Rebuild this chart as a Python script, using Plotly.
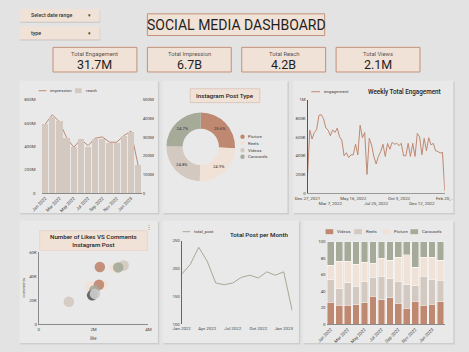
import plotly.graph_objects as go
import pandas as pd

W, H = 469, 352
FONT = "Roboto"
TERRA = "#bf8870"
TAUPE = "#d3c9c0"
BLUSH = "#f1e2d7"
SAGE = "#a6aa99"
BOXLINE = "#c39079"
PANEL = "#e9e9e9"
BG = "#e3e3e3"
SHADOW = "#cdcdcd"
TXT = "#2a2a2a"
TICK = "#444444"

# ---------------- data ----------------
months = ["Jan 2022", "Feb 2022", "Mar 2022", "Apr 2022", "May 2022", "Jun 2022",
          "Jul 2022", "Aug 2022", "Sep 2022", "Oct 2022", "Nov 2022", "Dec 2022",
          "Jan 2023", "Feb 2023"]
impression = [590e6, 671e6, 610e6, 475e6, 392e6, 461e6, 406e6, 470e6, 481e6,
              436e6, 436e6, 492e6, 531e6, 240e6]
reach = [369e6, 407e6, 385e6, 294e6, 245e6, 290e6, 246e6, 288e6, 290e6,
         267e6, 267e6, 306e6, 329e6, 150e6]

post_types = ["Picture", "Reels", "Videos", "Carousels"]
post_share = [25.6, 24.9, 24.8, 24.7]

week_start = "2021-12-27"
engagement = [180e3, 674e3, 579e3, 649e3, 680e3, 832e3, 839e3, 796e3, 698e3, 674e3,
              614e3, 677e3, 649e3, 695e3, 603e3, 568e3, 400e3, 432e3, 382e3, 410e3,
              410e3, 523e3, 410e3, 726e3, 593e3, 649e3, 200e3, 586e3, 516e3, 393e3,
              312e3, 393e3, 446e3, 523e3, 393e3, 533e3, 470e3, 544e3, 523e3, 533e3,
              509e3, 533e3, 400e3, 400e3, 533e3, 393e3, 533e3, 393e3, 639e3, 603e3,
              410e3, 586e3, 453e3, 593e3, 516e3, 533e3, 453e3, 446e3, 428e3, 439e3,
              25e3]
weeks = pd.date_range(week_start, periods=len(engagement), freq="7D")
week_ticks = ["2021-12-27", "2022-03-07", "2022-05-16", "2022-07-25",
              "2022-10-03", "2022-12-12", "2023-02-20"]
week_tick_text = ["Dec 27, 2021", "<br>Mar 7, 2022", "May 16, 2022", "<br>Jul 25, 2022",
                  "Oct 3, 2022", "<br>Dec 12, 2022", "Feb 20,..."]

likes = [1.10e6, 1.86e6, 2.76e6, 3.10e6, 2.23e6, 2.90e6, 2.34e6, 2.20e6,
         2.03e6, 1.95e6, 2.05e6]
comments = [18.8e3, 31.8e3, 47.0e3, 49.0e3, 47.8e3, 47.5e3, 33.0e3, 33.0e3,
            28.5e3, 24.2e3, 25.4e3]
bubble_colors = [TAUPE, BLUSH, BLUSH, TAUPE, TERRA, SAGE, BLUSH, TERRA,
                 SAGE, "#5c5c5c", "#cbcbcb"]

total_post = [190, 207, 238, 213, 174, 171, 174, 184, 188, 183, 194, 188, 194, 124]

videos = [26.8, 22.8, 22.8, 23.6, 26.0, 34.0, 30.0, 32.0, 25.2, 19.2, 28.0, 22.8, 24.0, 27.2]
reels = [27.2, 20.4, 27.2, 22.4, 25.2, 22.8, 28.0, 23.2, 26.8, 28.8, 18.8, 35.2, 30.0, 26.0]
picture = [17.2, 32.8, 26.0, 26.8, 24.0, 17.2, 22.0, 22.0, 29.2, 36.0, 22.4, 23.2, 27.2, 24.0]
carousels = [28.8, 24.0, 24.0, 27.2, 24.8, 26.0, 20.0, 22.8, 18.8, 16.0, 30.8, 18.8, 18.8, 22.8]

kpi_labels = ["Total Engagement", "Total Impression", "Total Reach", "Total Views"]
kpi_values = ["31.7M", "6.7B", "4.2B", "2.1M"]


# ---------------- helpers ----------------
def X(p):
    return p / W


def Y(p):
    return 1 - p / H


shapes = []
annotations = []


def rect(x0, y0, x1, y1, fill, line=None, lw=0, layer="below", kind="rect"):
    shapes.append(dict(type=kind, xref="paper", yref="paper",
                       x0=X(x0), x1=X(x1), y0=Y(y1), y1=Y(y0),
                       fillcolor=fill, line=dict(color=line or fill, width=lw),
                       layer=layer))


def hline(x0, x1, y, color, lw=1):
    shapes.append(dict(type="line", xref="paper", yref="paper",
                       x0=X(x0), x1=X(x1), y0=Y(y), y1=Y(y),
                       line=dict(color=color, width=lw)))


def text(x, y, s, size, color=TXT, xanchor="center", yanchor="middle", weight=400, **kw):
    annotations.append(dict(xref="paper", yref="paper", x=X(x), y=Y(y), text=s,
                            showarrow=False,
                            font=dict(family=FONT, size=size, color=color, weight=weight),
                            xanchor=xanchor, yanchor=yanchor, **kw))


def panel(x0, y0, x1, y1):
    rect(x0 + 1, y0 + 1, x1 + 1.5, y1 + 1.5, SHADOW)
    rect(x0, y0, x1, y1, PANEL)


# ---------------- layout decorations ----------------
for p in [(7, 80, 152, 214), (157, 80, 288, 214), (294, 80, 462, 214),
          (7, 222, 152, 346), (157, 222, 300, 346), (304, 222, 462, 346)]:
    panel(*p)

# dropdowns
for (y0, y1, label) in [(7, 20, "Select date range"), (25, 38, "type")]:
    rect(7.5, y0 + 1, 91.5, y1 + 1, "#c9c3be")
    rect(7, y0, 91, y1, BLUSH)
    text(17, (y0 + y1) / 2, label, 5.3, color="#333", xanchor="left", weight=500)
    text(80, (y0 + y1) / 2, "▾", 4.5, color="#333")

# title
rect(141, 12, 327, 34, BLUSH, BOXLINE, 1)
text(234, 23.5, "SOCIAL MEDIA DASHBOARD", 14, color="#1e1e1e")

# KPI cards
for i, (lab, val) in enumerate(zip(kpi_labels, kpi_values)):
    x0 = 42 + i * 99
    rect(x0, 46, x0 + 88, 71, BLUSH, BOXLINE, 1)
    text(x0 + 44, 53, lab, 5.8, color="#555")
    text(x0 + 44, 63.5, val, 12.5, color="#1e1e1e")

SM = 4.4  # small text size

# panel 1 legend
hline(27, 35, 90, TERRA, 1)
text(36.5, 90, "impression", SM, color="#444", xanchor="left")
rect(65, 87.5, 72, 92.5, TAUPE)
text(74.5, 90, "reach", SM, color="#444", xanchor="left")

# panel 2 title & legend
rect(186, 88, 259, 102, BLUSH, "#d9c3b5", 0.8)
text(222.5, 95, "Instagram Post Type", 6.2, color="#222", weight=500)
for lab, col, yy in zip(post_types, [TERRA, BLUSH, TAUPE, SAGE], [136.7, 143.3, 150.3, 157]):
    rect(238.5, yy - 2.3, 243.1, yy + 2.3, col, kind="circle", layer="above")
    text(244.5, yy, lab, SM, color="#444", xanchor="left")

# panel 3 legend & title
hline(313, 322, 91, TERRA, 1)
text(324, 91, "engagement", SM, color="#444", xanchor="left")
text(451, 91, "Weekly Total Engagement", 6.3, color="#222", xanchor="right", weight=500)

# panel 4 title box & labels
rect(28, 232, 141, 252, BLUSH, "#e6d3c6", 0.8)
text(84.5, 242, "Number of Likes VS Comments<br>Instagram Post", 6.2, color="#222", weight=500)
text(142.5, 228, "⋮", 6, color="#777")
text(11.5, 290, "comments", 4.2, color="#555", textangle=-90)
text(84.5, 341, "<i>like</i>", 4.4, color="#555")

# panel 5 legend & title
hline(178, 186, 233, "#a9a796", 1)
text(188, 233, "total_post", SM, color="#444", xanchor="left")
text(292, 236.5, "Total Post per Month", 6.2, color="#222", xanchor="right", weight=500)

# panel 6 legend
for lab, col, x0 in zip(["Videos", "Reels", "Picture", "Carousels"],
                        [TERRA, TAUPE, BLUSH, SAGE], [328, 358, 388, 417]):
    rect(x0, 230.5, x0 + 8, 235.5, col)
    text(x0 + 10, 233, lab, SM, color="#444", xanchor="left")

# ---------------- traces ----------------
fig = go.Figure()

# panel 1
fig.add_trace(go.Bar(x=months, y=reach, marker=dict(color=TAUPE, line=dict(width=0)),
                     width=0.88, xaxis="x", yaxis="y2", showlegend=False))
fig.add_trace(go.Scatter(x=months, y=impression, mode="lines", line=dict(color=TERRA, width=1),
                         xaxis="x", yaxis="y", showlegend=False))

# panel 2
fig.add_trace(go.Pie(labels=post_types, values=post_share, hole=0.53, sort=False,
                     direction="clockwise", rotation=0,
                     marker=dict(colors=[TERRA, BLUSH, TAUPE, SAGE], line=dict(width=0)),
                     texttemplate="%{percent:.1%}", textposition="inside",
                     insidetextorientation="horizontal",
                     textfont=dict(family=FONT, size=4.3, color="#333"),
                     domain=dict(x=[X(161), X(233)], y=[Y(183), Y(111)]),
                     showlegend=False))

# panel 3
fig.add_trace(go.Scatter(x=weeks, y=engagement, mode="lines", line=dict(color=TERRA, width=1),
                         xaxis="x3", yaxis="y3", showlegend=False))

# panel 4
fig.add_trace(go.Scatter(x=likes, y=comments, mode="markers",
                         marker=dict(size=10.5, color=bubble_colors, opacity=0.92,
                                     line=dict(width=0)),
                         xaxis="x4", yaxis="y4", showlegend=False))

# panel 5
fig.add_trace(go.Scatter(x=months, y=total_post, mode="lines", line=dict(color="#a9a796", width=1),
                         xaxis="x5", yaxis="y5", showlegend=False))

# panel 6
for vals, col in [(videos, TERRA), (reels, TAUPE), (picture, BLUSH), (carousels, SAGE)]:
    fig.add_trace(go.Bar(x=months, y=vals, marker=dict(color=col, line=dict(color="#ffffff", width=0.4)),
                         width=0.8, xaxis="x6", yaxis="y6", showlegend=False))

tf = dict(family=FONT, size=4.4, color=TICK)
base = dict(showgrid=False, zeroline=False, tickfont=tf, ticks="", fixedrange=True)

fig.update_layout(
    width=W, height=H, margin=dict(l=0, r=0, t=0, b=0),
    paper_bgcolor=BG, plot_bgcolor="rgba(0,0,0,0)",
    barmode="stack", showlegend=False,
    font=dict(family=FONT),
    shapes=shapes, annotations=annotations,
    xaxis=dict(base, domain=[X(30), X(135)], anchor="y", type="category",
               range=[-0.5, 13.5], tickvals=months[::2], tickangle=-45,
               showline=True, linecolor="#8a8a8a", linewidth=1),
    yaxis=dict(base, domain=[Y(194), Y(99)], anchor="x", range=[0, 800e6],
               tickvals=[0, 200e6, 400e6, 600e6, 800e6],
               ticktext=["0", "200M", "400M", "600M", "800M"], ticklabelstandoff=5),
    yaxis2=dict(base, overlaying="y", anchor="x", side="right", range=[0, 500e6],
                tickvals=[0, 100e6, 200e6, 300e6, 400e6, 500e6],
                ticktext=["0", "100M", "200M", "300M", "400M", "500M"]),
    xaxis3=dict(base, domain=[X(309), X(453)], anchor="y3", type="date",
                range=[week_ticks[0], week_ticks[-1]],
                tickvals=week_ticks, ticktext=week_tick_text, tickangle=0,
                showline=True, linecolor="#9a9a9a", linewidth=1),
    yaxis3=dict(base, domain=[Y(194), Y(99)], anchor="x3", range=[0, 1e6],
                tickvals=[0, 200e3, 400e3, 600e3, 800e3, 1e6],
                ticktext=["0", "200K", "400K", "600K", "800K", "1M"],
                showline=True, linecolor="#555", linewidth=1),
    xaxis4=dict(base, domain=[X(27), X(142)], anchor="y4", range=[0, 4e6],
                tickvals=[0, 2e6, 4e6], ticktext=["0", "2M", "4M"],
                showline=True, linecolor="#8a8a8a", linewidth=1),
    yaxis4=dict(base, domain=[Y(327), Y(254)], anchor="x4", range=[0, 60e3],
                tickvals=[0, 20e3, 40e3, 60e3], ticktext=["0", "20K", "40K", "60K"],
                showline=True, linecolor="#8a8a8a", linewidth=1),
    xaxis5=dict(base, domain=[X(177), X(293)], anchor="y5", type="category",
                range=[0, 13], tickvals=["Jan 2022", "Apr 2022", "Jul 2022", "Oct 2022", "Jan 2023"],
                tickangle=0),
    yaxis5=dict(base, domain=[Y(327), Y(242)], anchor="x5", range=[100, 250],
                tickvals=[100, 150, 200, 250],
                showline=True, linecolor="#666", linewidth=1),
    xaxis6=dict(base, domain=[X(329), X(453)], anchor="y6", type="category",
                range=[-0.5, 13.5], tickvals=months[::2], tickangle=-45,
                showline=True, linecolor="#8a8a8a", linewidth=1),
    yaxis6=dict(base, domain=[Y(327), Y(243)], anchor="x6", range=[0, 100],
                tickvals=[0, 20, 40, 60, 80, 100], ticksuffix="%"),
)

fig.write_html("out.html")
